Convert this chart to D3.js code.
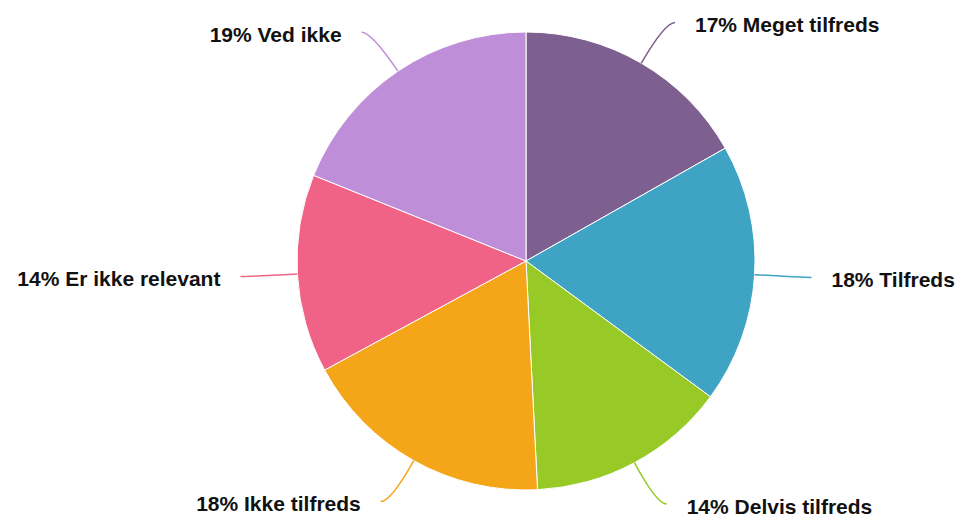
<!DOCTYPE html>
<html>
<head>
<meta charset="utf-8">
<script src="https://cdn.jsdelivr.net/npm/d3@7"></script>
<style>
  body { margin: 0; background: #fff; }
  text { font-family: "Liberation Sans", Arial, sans-serif; font-weight: bold; fill: #111; }
</style>
</head>
<body>
<div id="chart"></div>
<script>
var categories = ["Meget tilfreds", "Tilfreds", "Delvis tilfreds", "Ikke tilfreds", "Er ikke relevant", "Ved ikke"];
var values = [16.8, 18.3, 14.1, 17.9, 14.0, 18.9];
var colors = ["#7d5f90", "#3fa3c4", "#97c927", "#f5a518", "#f06386", "#be8ed9"];

var width = 961, height = 519;
var cx = 526, cy = 261, radius = 229;

var svg = d3.select("#chart").append("svg")
    .attr("width", width)
    .attr("height", height);

var g = svg.append("g")
    .attr("transform", "translate(" + cx + "," + cy + ")");

var data = categories.map(function(c, i) { return {name: c, value: values[i], color: colors[i]}; });
var total = d3.sum(values);

var pie = d3.pie()
    .sort(null)
    .value(function(d) { return d.value; });

var arc = d3.arc()
    .innerRadius(0)
    .outerRadius(radius);

var arcs = pie(data);

g.selectAll("path.slice")
    .data(arcs)
    .enter().append("path")
    .attr("class", "slice")
    .attr("d", arc)
    .attr("fill", function(d) { return d.data.color; })
    .attr("stroke", "#fff")
    .attr("stroke-width", 1);

function polar(a, r) {
  return [Math.sin(a) * r, -Math.cos(a) * r];
}

// connector: curve out from the edge, ending in a short horizontal hook
arcs.forEach(function(d) {
  var mid = (d.startAngle + d.endAngle) / 2;
  var side = Math.sin(mid) >= 0 ? 1 : -1;
  var p0 = polar(mid, radius);
  var p1 = polar(mid, radius + 47);
  var p2 = [p1[0] + side * 10, p1[1]];

  var path = d3.path();
  path.moveTo(p0[0], p0[1]);
  path.quadraticCurveTo(p1[0], p1[1], p2[0], p2[1]);

  g.append("path")
    .attr("d", path.toString())
    .attr("fill", "none")
    .attr("stroke", d.data.color)
    .attr("stroke-width", 1.5);

  g.append("text")
    .attr("x", p2[0] + side * 20)
    .attr("y", p2[1] + 2.5)
    .attr("dy", "0.35em")
    .attr("text-anchor", side > 0 ? "start" : "end")
    .style("font-size", "21px")
    .text(Math.round(d.data.value / total * 100) + "% " + d.data.name);
});
</script>
</body>
</html>
